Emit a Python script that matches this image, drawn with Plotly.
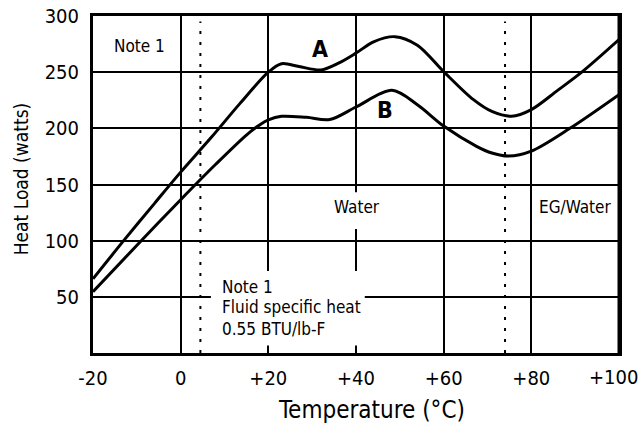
import plotly.graph_objects as go

# ---- data ----
temp_a = [-20, -13, -6, 0, 7, 13.5, 20, 23, 27, 32, 36, 40, 44, 48.9, 54, 60, 66.8, 71, 75.5, 80, 86, 91.5, 100]
load_a = [66, 100, 133, 161, 192, 222, 250, 257.5, 255, 252, 258, 267, 277, 281.6, 274, 250.5, 225.5, 215, 210.7, 216.7, 233.8, 250, 279]

temp_b = [-20, -9, 0, 8, 15, 18, 20, 23, 28.7, 34, 40, 48.2, 54, 60, 67.5, 71, 74.8, 80, 88.8, 100]
load_b = [54.5, 100, 136.5, 168, 194, 203, 207.5, 210.7, 209.8, 207.8, 219, 233.8, 221, 202, 184, 178, 175.3, 179.7, 200, 230]

x_ticks = [-20, 0, 20, 40, 60, 80]
x_tick_labels = ["-20", "0", "+20", "+40", "+60", "+80"]
x_last_tick = 100
x_last_label = "+100"
y_ticks = [50, 100, 150, 200, 250, 300]
y_tick_labels = ["50", "100", "150", "200", "250", "300"]
dotted_temps = [4.5, 74]

FONT = "DejaVu Sans Condensed, Liberation Sans Narrow, sans-serif"

fig = go.Figure()
fig.add_trace(go.Scatter(x=temp_a, y=load_a, mode="lines", name="A",
                         line=dict(color="black", width=3, shape="spline", smoothing=0.9),
                         hoverinfo="skip", showlegend=False))
fig.add_trace(go.Scatter(x=temp_b, y=load_b, mode="lines", name="B",
                         line=dict(color="black", width=3, shape="spline", smoothing=0.9),
                         hoverinfo="skip", showlegend=False))

shapes = []
for t in dotted_temps:
    shapes.append(dict(type="line", xref="x", yref="y", x0=t, x1=t, y0=0, y1=295,
                       line=dict(color="black", width=2, dash="3px,8px"), layer="above"))
# vertical gridline at the last tick (coincides with the frame)
shapes.append(dict(type="line", xref="x", yref="paper", x0=x_last_tick, x1=x_last_tick, y0=0, y1=1,
                   line=dict(color="black", width=3), layer="above"))
# white boxes breaking the grid behind text
shapes.append(dict(type="rect", xref="x", yref="y", x0=6.9, x1=42, y0=6.6, y1=73,
                   fillcolor="white", line=dict(width=0), layer="above"))
shapes.append(dict(type="rect", xref="x", yref="y", x0=33, x1=48, y0=110.3, y1=143,
                   fillcolor="white", line=dict(width=0), layer="above"))

def txt(x, y, s, size=17, **kw):
    d = dict(x=x, y=y, text=s, showarrow=False, xanchor=kw.pop("xanchor", "center"),
             yanchor=kw.pop("yanchor", "middle"), font=dict(size=size, family=FONT, color="black"))
    d.update(kw)
    return d

annotations = [
    txt(-9.5, 273.4, "Note 1"),
    txt(31.8, 270.7, "<b>A</b>", size=23),
    txt(46.6, 216.7, "<b>B</b>", size=23),
    txt(40.2, 129.8, "Water"),
    txt(90, 130, "EG/Water"),
    txt(9.0, 59.1, "Note 1", xanchor="left"),
    txt(9.0, 41.1, "Fluid specific heat", xanchor="left"),
    txt(9.0, 21.6, "0.55 BTU/lb-F", xanchor="left"),
    txt(1.0395, -0.072, x_last_label, size=20, xref="paper", yref="paper", xanchor="right"),
    txt(43.6, -0.169, "Temperature (°C)", size=24, yref="paper"),
    txt(-0.137, 154.6, "Heat Load (watts)", size=19, xref="paper", textangle=-90),
]

fig.update_layout(
    width=641, height=428,
    margin=dict(l=93, r=22, t=16, b=75, autoexpand=False),
    paper_bgcolor="white", plot_bgcolor="white",
    shapes=shapes, annotations=annotations,
    font=dict(family=FONT, color="black"),
    xaxis=dict(range=[-20, 100], tickvals=x_ticks, ticktext=x_tick_labels, automargin=False,
               showgrid=True, gridcolor="black", gridwidth=2, zeroline=False,
               showline=True, linecolor="black", linewidth=3, mirror=True,
               ticks="outside", ticklen=5, tickcolor="rgba(0,0,0,0)",
               tickfont=dict(size=20, family=FONT, color="black")),
    yaxis=dict(range=[0, 300], tickvals=y_ticks, ticktext=y_tick_labels, automargin=False,
               showgrid=True, gridcolor="black", gridwidth=2, zeroline=False,
               showline=True, linecolor="black", linewidth=3, mirror=True,
               ticks="outside", ticklen=7, tickcolor="rgba(0,0,0,0)",
               tickfont=dict(size=20, family=FONT, color="black")),
)

fig.write_html("out.html", post_script="document.body.style.margin='0';",
               config={"displayModeBar": False, "staticPlot": True})
